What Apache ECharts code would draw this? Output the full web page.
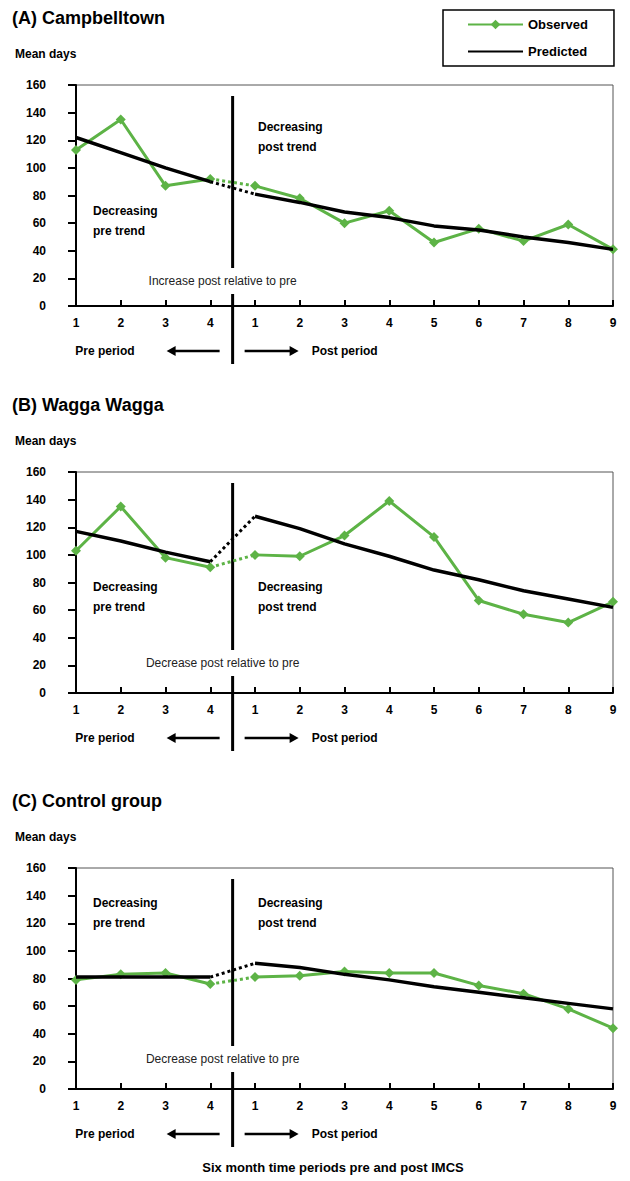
<!DOCTYPE html>
<html><head><meta charset="utf-8">
<script src="https://cdn.jsdelivr.net/npm/echarts@6/dist/echarts.min.js"></script>
<style>html,body{margin:0;padding:0;background:#fff}#c{width:630px;height:1181px}</style>
</head><body><div id="c"></div>
<script>
// ---- data ----
const categories = ['1','2','3','4','1','2','3','4','5','6','7','8','9'];
const observedA  = [113,135,87,92, 87,78,60,69,46,56,47,59,41];
const predictedA = [122,111,100,90, 81,75,68,64,58,55,50,46,41];
const observedB  = [103,135,98,91, 100,99,114,139,113,67,57,51,66];
const predictedB = [117,110,102,95, 128,119,108,99,89,82,74,68,62];
const observedC  = [79,83,84,76, 81,82,85,84,84,75,69,58,44];
const predictedC = [81,81,81,81, 91,88,83,79,74,70,66,62,58];
const titles = ['(A) Campbelltown','(B) Wagga Wagga','(C) Control group'];
const changeTexts = ['Increase post relative to pre','Decrease post relative to pre','Decrease post relative to pre'];
const yTickLabels = ['0','20','40','60','80','100','120','140','160'];

// ---- layout / style ----
const FONT = '"Liberation Sans", Arial, sans-serif';
const GREEN = '#5db346';
const gridTops = [85, 472, 868];
const GH = 221;
const preTrendOff = [126, 115, 35];
const postTrendOff = [42, 115, 35];
const changeOff = [-25, -30, -30];

const panels = [
  {obs: observedA, pred: predictedA},
  {obs: observedB, pred: predictedB},
  {obs: observedC, pred: predictedC}
];

const chart = echarts.init(document.getElementById('c'), null, {renderer: 'svg', width: 630, height: 1181});

function seg(arr, a, b) { return arr.map((v, k) => (k >= a && k <= b) ? v : '-'); }

const grids = [], xAxes = [], yAxes = [], series = [];
panels.forEach((p, i) => {
  grids.push({left: 76, right: 17, top: gridTops[i], height: GH, show: true,
    borderColor: '#555', borderWidth: 1, backgroundColor: 'transparent'});
  xAxes.push({type: 'category', gridIndex: i, data: categories, boundaryGap: false,
    axisLine: {lineStyle: {color: '#000', width: 2}},
    axisTick: {inside: true, length: 6, lineStyle: {color: '#000', width: 2}},
    axisLabel: {interval: 0, color: '#000', fontWeight: 'bold', fontSize: 12, margin: 11, fontFamily: FONT},
    splitLine: {show: false}});
  yAxes.push({type: 'value', gridIndex: i, min: 0, max: 160, interval: 20,
    axisLine: {show: true, lineStyle: {color: '#000', width: 2}},
    axisTick: {show: true, length: 8, lineStyle: {color: '#000', width: 2}},
    axisLabel: {color: '#000', fontWeight: 'bold', fontSize: 12, margin: 30, fontFamily: FONT,
      formatter: v => yTickLabels[v / 20]},
    splitLine: {show: false}});
  const common = {type: 'line', xAxisIndex: i, yAxisIndex: i, animation: false};
  [[0, 3], [4, 12]].forEach(([a, b]) => {
    series.push(Object.assign({}, common, {name: 'Observed', data: seg(p.obs, a, b),
      symbol: 'diamond', symbolSize: 10, showSymbol: true, z: 3,
      itemStyle: {color: GREEN}, lineStyle: {color: GREEN, width: 3}}));
  });
  series.push(Object.assign({}, common, {name: 'Observed', data: seg(p.obs, 3, 4),
    symbol: 'none', z: 3, itemStyle: {color: GREEN}, lineStyle: {color: GREEN, width: 3, type: 'dotted'}}));
  [[0, 3], [4, 12]].forEach(([a, b]) => {
    series.push(Object.assign({}, common, {name: 'Predicted', data: seg(p.pred, a, b),
      symbol: 'none', z: 4, itemStyle: {color: '#000'}, lineStyle: {color: '#000', width: 3.5}}));
  });
  series.push(Object.assign({}, common, {name: 'Predicted', data: seg(p.pred, 3, 4),
    symbol: 'none', z: 4, itemStyle: {color: '#000'}, lineStyle: {color: '#000', width: 3, type: 'dotted'}}));
});

chart.setOption({
  animation: false,
  backgroundColor: '#fff',
  grid: grids, xAxis: xAxes, yAxis: yAxes, series: series,
  legend: {data: [{name: 'Observed'}, {name: 'Predicted', itemStyle: {opacity: 0}}],
    left: 443, top: 10, orient: 'vertical',
    itemWidth: 55, itemHeight: 12, itemGap: 14, borderColor: '#000', borderWidth: 1.5,
    padding: [8, 26, 8, 24], selectedMode: false,
    textStyle: {color: '#000', fontWeight: 'bold', fontSize: 13, fontFamily: FONT}}
});

// ---- annotations ----
const g = [];
function txt(x, y, s, opt) {
  g.push({type: 'text', x: x, y: y, silent: true, style: Object.assign({text: s, fill: '#000',
    font: 'bold 12px ' + FONT, textAlign: 'left', textVerticalAlign: 'middle'}, opt || {})});
}
function line(x1, y1, x2, y2, w) {
  g.push({type: 'line', silent: true, shape: {x1, y1, x2, y2}, style: {stroke: '#000', lineWidth: w || 3}});
}
function head(x, y, dir) {
  g.push({type: 'polygon', silent: true, shape: {points: [[x, y], [x - dir * 9, y - 5], [x - dir * 9, y + 5]]}, style: {fill: '#000'}});
}
panels.forEach((p, i) => {
  const gt = gridTops[i], gb = gt + GH;
  const x0 = chart.convertToPixel({gridIndex: i}, [0, 0])[0];
  const x3 = chart.convertToPixel({gridIndex: i}, [3, 0])[0];
  const x4 = chart.convertToPixel({gridIndex: i}, [4, 0])[0];
  const xd = (x3 + x4) / 2;
  txt(12, gt - 67, titles[i], {font: 'bold 18px ' + FONT});
  txt(15, gt - 31, 'Mean days', {font: 'bold 12px ' + FONT});
  const cy = gb + changeOff[i];
  line(xd, gt + 11, xd, cy - 13, 3);
  line(xd, cy + 13, xd, gb + 58, 3);
  txt(xd - 10, cy, changeTexts[i], {font: '12px ' + FONT, fill: '#222', textAlign: 'center'});
  txt(x0 + 17, gt + preTrendOff[i], 'Decreasing', {});
  txt(x0 + 17, gt + preTrendOff[i] + 20, 'pre trend', {});
  txt(x4 + 3, gt + postTrendOff[i], 'Decreasing', {});
  txt(x4 + 3, gt + postTrendOff[i] + 20, 'post trend', {});
  const ay = gb + 45;
  txt(xd - 98, ay, 'Pre period', {textAlign: 'right'});
  line(xd - 60, ay, xd - 13, ay, 2.5); head(xd - 66, ay, -1);
  line(xd + 12, ay, xd + 60, ay, 2.5); head(xd + 66, ay, 1);
  txt(xd + 79, ay, 'Post period', {});
});
txt(333, 1167, 'Six month time periods pre and post IMCS', {textAlign: 'center', font: 'bold 13px ' + FONT});
chart.setOption({graphic: g});
</script>
</body></html>
